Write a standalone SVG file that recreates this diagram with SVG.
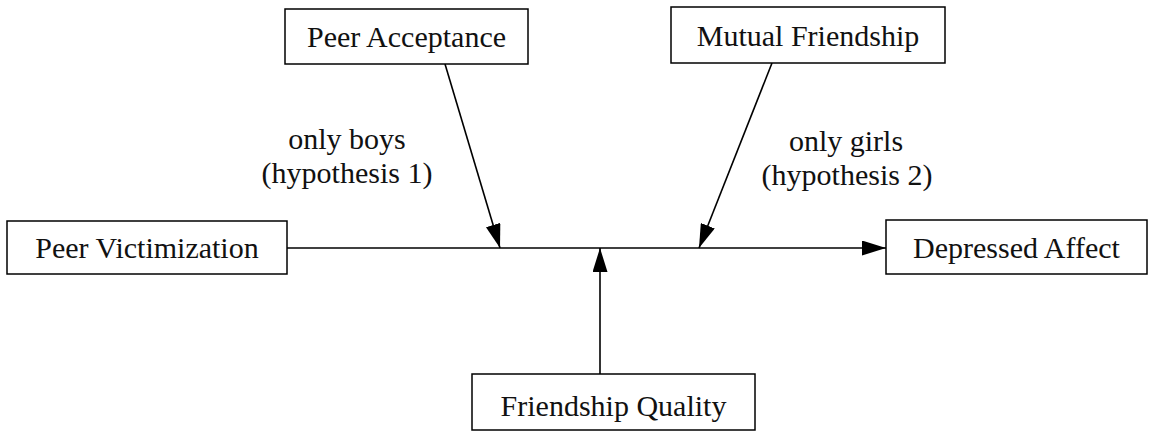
<svg xmlns="http://www.w3.org/2000/svg" width="1163" height="432" viewBox="0 0 1163 432">
<style>
.box{fill:#fff;stroke:#000;stroke-width:1.5}
.t{font-family:"Liberation Serif","Times New Roman",serif;font-size:30px;fill:#111;text-anchor:middle}
.c{stroke:#000;stroke-width:1.6;fill:none}
</style>
<defs>
<marker id="ah" viewBox="0 0 24 15" refX="24" refY="7.5" markerWidth="24" markerHeight="15" markerUnits="userSpaceOnUse" orient="auto" preserveAspectRatio="none"><path d="M0,0L24,7.5L0,15z" fill="#000"/></marker>
</defs>
<rect width="1163" height="432" fill="#fff"/>
<g id="connectors">
<line class="c" x1="287" y1="248" x2="886" y2="248" marker-end="url(#ah)"/>
<line class="c" x1="445" y1="64" x2="500" y2="248" marker-end="url(#ah)"/>
<line class="c" x1="772" y1="63" x2="699" y2="248" marker-end="url(#ah)"/>
<line class="c" x1="600" y1="374" x2="600" y2="248" marker-end="url(#ah)"/>
</g>
<g id="peer-acceptance"><rect class="box" x="285" y="9" width="243" height="55"/><text class="t" x="406.5" y="47">Peer Acceptance</text></g>
<g id="mutual-friendship"><rect class="box" x="671" y="7" width="274" height="56"/><text class="t" x="808" y="46">Mutual Friendship</text></g>
<g id="peer-victimization"><rect class="box" x="7" y="221" width="280" height="53"/><text class="t" x="147" y="258">Peer Victimization</text></g>
<g id="depressed-affect"><rect class="box" x="886" y="220" width="261" height="54"/><text class="t" x="1016.5" y="258">Depressed Affect</text></g>
<g id="friendship-quality"><rect class="box" x="472" y="374" width="283" height="56"/><text class="t" x="613.5" y="416">Friendship Quality</text></g>
<g id="labels">
<text class="t" x="347" y="149">only boys</text>
<text class="t" x="347" y="183">(hypothesis 1)</text>
<text class="t" x="846" y="151">only girls</text>
<text class="t" x="847" y="185">(hypothesis 2)</text>
</g>
</svg>
